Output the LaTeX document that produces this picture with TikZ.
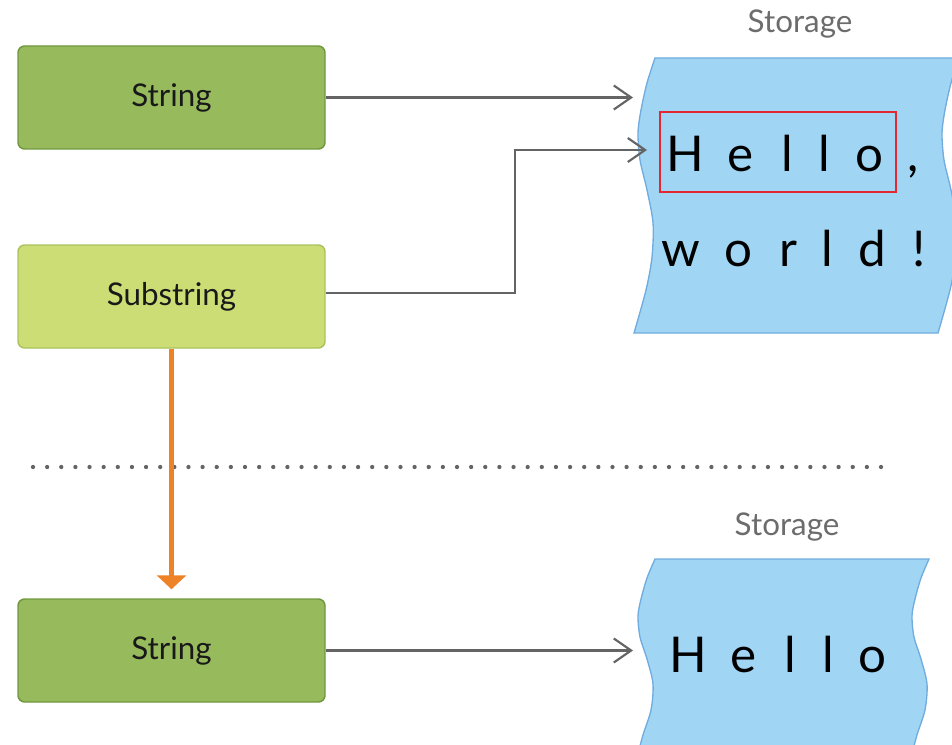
\documentclass[tikz,border=0pt]{standalone}
\usepackage{fontspec}
\setmainfont{Lato}
\usetikzlibrary{arrows.meta}

\definecolor{strfill}{RGB}{151,187,92}
\definecolor{strdraw}{RGB}{112,152,62}
\definecolor{subfill}{RGB}{203,221,116}
\definecolor{subdraw}{RGB}{170,196,92}
\definecolor{storefill}{RGB}{160,214,244}
\definecolor{storedraw}{RGB}{112,172,222}
\definecolor{linkgray}{RGB}{100,100,100}
\definecolor{labelgray}{RGB}{108,108,108}
\definecolor{hilitered}{RGB}{229,40,48}
\definecolor{convorange}{RGB}{238,130,38}

\begin{document}
\begin{tikzpicture}[x=0.75pt,y=-0.75pt,
  typebox/.style={rectangle, rounded corners=5pt, minimum width=230.25pt,
    minimum height=77.25pt, inner sep=0pt, line width=1.1pt,
    font=\fontsize{23.5}{27}\selectfont, text=black!90},
  stringbox/.style={typebox, fill=strfill, draw=strdraw},
  substrbox/.style={typebox, fill=subfill, draw=subdraw},
  storage/.style={fill=storefill, draw=storedraw, line width=1pt},
  storelabel/.style={anchor=base, text=labelgray, inner sep=0pt,
    font=\fontsize{23.5}{27}\selectfont},
  glyph/.style={anchor=base, inner sep=0pt, font=\fontsize{37}{41}\selectfont},
  link/.style={draw=linkgray, line width=1.6pt,
    -{Straight Barb[length=13pt,width=18pt]}},
  convert/.style={draw=convorange, line width=3.9pt,
    -{Triangle[length=10.5pt,width=21.75pt]}},
  divider/.style={draw=linkgray, line width=3.2pt, line cap=round,
    dash pattern=on 0pt off 10.6pt},
  hilite/.style={draw=hilitered, line width=1.5pt}]

\useasboundingbox (0,0) rectangle (952,745);
\clip (0,0) rectangle (952,745);

% ---- storage buffers (wavy-edged sheets) ----
\path[storage] (655,58)
  -- plot[smooth] coordinates {(655,58) (647,83) (641,110) (638,133) (640,160)
       (647,190) (653,223) (652,257) (646,290) (634,333)}
  -- (938,333)
  -- plot[smooth] coordinates {(938,333) (950,290) (956,257) (957,223) (951,190)
       (944,160) (942,133) (945,110) (951,83) (959,58)}
  -- cycle;

\path[storage] (655,559)
  -- plot[smooth] coordinates {(655,559) (647,578) (641,599) (638,616) (640,637)
       (647,659) (653,684) (651,710) (643,735) (634,768)}
  -- (908,768)
  -- plot[smooth] coordinates {(908,768) (917,735) (925,710) (927,684) (921,659)
       (914,637) (912,616) (915,599) (921,578) (929,559)}
  -- cycle;

\node[storelabel] (lab1) at (800,33) {Storage};
\node[storelabel] (lab2) at (787,535) {Storage};

% ---- characters held in the first buffer ----
\draw[hilite] (660,112) rectangle (896,192);
\node[glyph] (c1) at (685,172) {H};
\node[glyph] (c2) at (741,172) {e};
\node[glyph] (c3) at (787,172) {l};
\node[glyph] (c4) at (824,172) {l};
\node[glyph] (c5) at (869,172) {o};
\node[glyph] (c6) at (913,172) {,};
\node[glyph] (c7) at (681,267) {w};
\node[glyph] (c8) at (738,267) {o};
\node[glyph] (c9) at (788,267) {r};
\node[glyph] (c10) at (827,267) {l};
\node[glyph] (c11) at (872,267) {d};
\node[glyph] (c12) at (919,267) {!};

% ---- characters held in the second buffer ----
\node[glyph] (d1) at (688,672) {H};
\node[glyph] (d2) at (744,672) {e};
\node[glyph] (d3) at (790,672) {l};
\node[glyph] (d4) at (828,672) {l};
\node[glyph] (d5) at (872,672) {o};

% ---- value types ----
\node[stringbox] (str1) at (171.5,97.5) {String};
\node[substrbox] (sub) at (171.5,296.5) {Substring};
\node[stringbox] (str2) at (171.5,650.5) {String};

% ---- references into storage ----
\coordinate (t1) at (633,97.5);
\coordinate (t2) at (647,150);
\coordinate (t3) at (633,650.5);
\coordinate (bend) at (515,150);
\coordinate (subout) at ([yshift=2.6pt]sub.east);

\draw[link] (str1.east) -- (t1);
\draw[link] (subout) -| (bend) -- (t2);
\draw[link] (str2.east) -- (t3);

% ---- separator and conversion ----
\coordinate (sep1) at (33,467);
\coordinate (sep2) at (881,467);
\draw[divider] (sep1) -- (sep2);

\draw[convert, shorten >=6.75pt] (sub.south) -- (str2.north);

\end{tikzpicture}
\end{document}
